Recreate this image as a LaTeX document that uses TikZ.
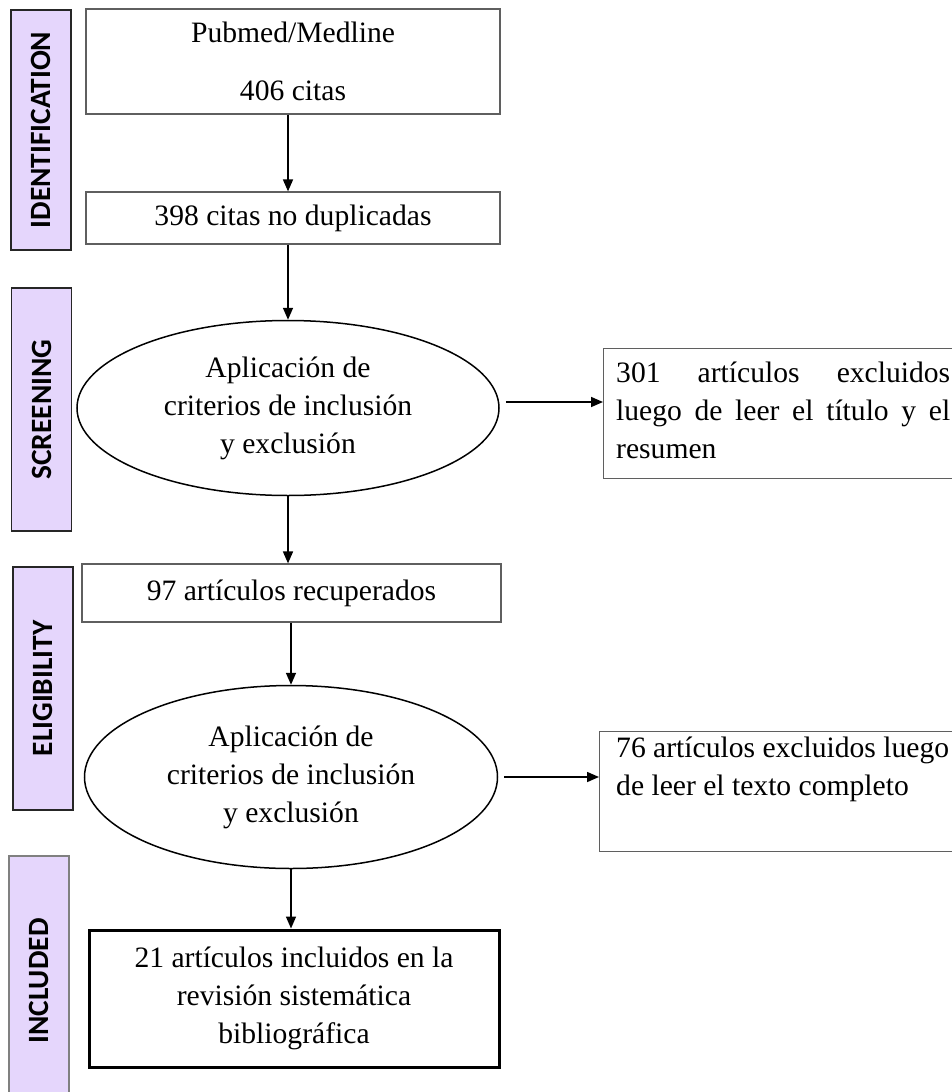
\documentclass[tikz,border=0pt]{standalone}
\usepackage{fontspec}
\setmainfont{Liberation Serif}
\setsansfont{Carlito}
\usepackage{tikz}
\usetikzlibrary{arrows.meta,shapes.geometric}
\definecolor{phaselilac}{RGB}{229,214,252}
\definecolor{boxgray}{RGB}{95,95,95}

\begin{document}
\begin{tikzpicture}[
  x=1pt,y=-1pt,
  font=\fontsize{29.6}{38}\selectfont,
  box/.style={draw=boxgray,line width=1.2pt,align=center,inner sep=0pt},
  crit/.style={draw,ellipse,line width=1.5pt,inner sep=0pt,align=center},
  side/.style={draw=black!85,fill=phaselilac,line width=1.3pt,rotate=90,minimum height=60pt,inner sep=0pt,font=\sffamily\bfseries\fontsize{29.4}{30}\selectfont},
  excl/.style={draw=boxgray,line width=1.2pt,inner sep=0pt,anchor=north west},
  excltext/.style={anchor=north west,inner sep=0pt,align=left},
  arr/.style={-{Triangle[length=12pt,width=10pt]},line width=1.6pt}
]
  \useasboundingbox (0,0) rectangle (952,1092);

  % phase bars
  \node[side,minimum width=240pt] (ident) at (41,130) {IDENTIFICATION};
  \node[side,minimum width=243pt] (screen) at (41.5,409.5) {SCREENING};
  \node[side,minimum width=243pt] (elig) at (43,688.5) {ELIGIBILITY};
  \node[side,draw=gray,minimum width=250pt] (incl) at (39,981) {INCLUDED};

  % main column
  \node[box,minimum width=414pt,minimum height=105pt] (pubmed) at (293,61.5) {Pubmed/Medline\\[20pt]406 citas};
  \node[box,minimum width=414pt,minimum height=52pt] (dedup) at (293,218) {398 citas no duplicadas};
  \node[crit,minimum width=422pt,minimum height=175pt] (crit1) at (288,408) {Aplicación de\\criterios de inclusión\\y exclusión};
  \node[box,minimum width=419pt,minimum height=58pt] (recup) at (291.5,593) {97 artículos recuperados};
  \node[crit,minimum width=413pt,minimum height=183pt] (crit2) at (291,777) {Aplicación de\\criterios de inclusión\\y exclusión};
  \node[box,draw=black,line width=3pt,minimum width=410pt,minimum height=137pt] (final) at (294,998.5) {21 artículos incluidos en la\\revisión sistemática\\bibliográfica};

  % excluded boxes
  \node[excl,minimum width=362pt,minimum height=130pt] (out1) at (603,348) {};
  \node[excltext,text width=334pt] (out1txt) at ([xshift=13pt,yshift=-14pt]out1.north west) {301\hfill artículos\hfill excluidos\\luego\hfill de\hfill leer\hfill el\hfill título\hfill y\hfill el\\resumen};
  \node[excl,minimum width=366pt,minimum height=120pt] (out2) at (599,731) {};
  \node[excltext] (out2txt) at ([xshift=17pt,yshift=-6pt]out2.north west) {76 artículos excluidos luego\\de leer el texto completo};

  \draw[arr] (pubmed.south -| crit1) -- (dedup.north -| crit1);
  \draw[arr] (dedup.south -| crit1) -- (crit1.north);
  \draw[arr] (crit1.south) -- (recup.north -| crit1);
  \draw[arr] (recup.south -| crit2) -- (crit2.north);
  \draw[arr] (crit2.south) -- (final.north -| crit2);
  \draw[arr] ([xshift=6pt,yshift=6pt]crit1.east) -- ([yshift=6pt]crit1.east -| out1.west);
  \draw[arr] ([xshift=6pt]crit2.east) -- (crit2.east -| out2.west);
\end{tikzpicture}
\end{document}
